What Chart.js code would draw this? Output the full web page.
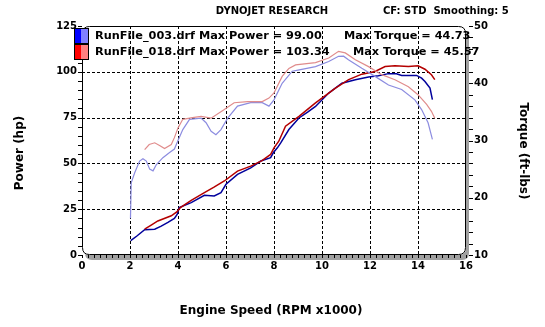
<!DOCTYPE html>
<html><head><meta charset="utf-8">
<script src="https://cdn.jsdelivr.net/npm/chart.js@4.4.1/dist/chart.umd.min.js"></script>
<style>html,body{margin:0;padding:0;background:#fff;overflow:hidden}#wrap{width:545px;height:327px}</style>
</head><body><div id="wrap"><canvas id="c" width="545" height="327"></canvas></div>
<script>
// ---- data (RPM x1000) ----
const rpm003Power = [2.03,2.3,2.61,3.03,3.3,3.58,3.85,3.97,4.05,4.55,5.1,5.51,5.79,6.0,6.48,7.03,7.45,7.86,7.97,8.14,8.28,8.62,9.04,9.4,9.73,10.28,10.83,11.39,11.94,12.35,12.77,13.1,13.32,13.94,14.15,14.29,14.5,14.6];
const power003    = [7.8,10.5,13.8,14.1,15.8,17.8,20.0,22.3,25.9,28.6,32.6,32.2,34.0,38.6,44.0,47.6,51.3,53.1,55.8,58.5,61.2,68.5,74.8,78.0,81.1,88.4,93.8,95.7,97.1,97.8,99.0,98.9,98.0,98.0,96.5,94.7,91.1,84.8];
const rpm018Power = [2.61,2.9,3.16,3.72,3.95,4.1,4.55,5.1,5.5,5.93,6.48,7.03,7.5,7.86,8.0,8.2,8.48,9.04,9.73,10.56,11.11,11.66,12.21,12.63,13.04,13.6,14.0,14.29,14.56,14.7];
const power018    = [14.1,16.5,18.6,21.4,23.5,25.9,29.8,34.0,37.0,40.4,45.8,48.5,51.5,54.9,58.5,62.1,70.3,75.7,83.0,91.1,95.7,98.7,100.2,102.9,103.34,102.9,103.3,101.4,98.4,95.7];
const rpm003Torque = [2.02,2.05,2.2,2.4,2.54,2.68,2.82,2.96,3.1,3.37,3.65,3.85,4.0,4.2,4.48,4.96,5.17,5.38,5.58,5.79,6.07,6.48,7.03,7.51,7.79,8.0,8.34,8.76,9.0,9.73,10.28,10.69,10.9,11.1,11.66,12.21,12.77,13.32,13.87,14.15,14.42,14.6];
const torque003    = [16.4,22.6,24.4,26.4,26.8,26.4,25.0,24.7,25.8,27.0,27.9,28.5,30.0,31.9,33.7,33.9,33.1,31.6,31.0,31.9,33.9,36.0,36.6,36.6,36.0,37.1,40.0,42.1,42.3,42.9,43.8,44.7,44.73,44.1,42.6,41.2,39.7,38.9,37.1,35.4,33.1,30.2];
const rpm018Torque = [2.61,2.8,3.03,3.25,3.44,3.72,3.85,4.0,4.2,4.6,4.96,5.38,5.93,6.34,6.9,7.51,7.79,8.0,8.34,8.62,8.9,9.73,10.28,10.69,10.97,11.39,11.94,12.49,13.04,13.6,14.0,14.36,14.56,14.7];
const torque018    = [28.4,29.3,29.6,29.1,28.6,29.3,30.5,32.2,33.7,34.0,34.2,33.9,35.4,36.6,36.8,36.8,37.4,38.3,41.2,42.6,43.2,43.6,44.4,45.57,45.3,44.1,42.9,41.5,40.6,39.4,38.0,36.3,35.1,33.9];
const xTicks = [0,2,4,6,8,10,12,14,16];
const powerTicks = [0,25,50,75,100,125];
const torqueTicks = [10,20,30,40,50];
const legendLines = [
  {name:'RunFile_003.drf Max Power = 99.00', torque:'Max Torque = 44.73'},
  {name:'RunFile_018.drf Max Power = 103.34', torque:'Max Torque = 45.57'}
];

const FONT = '"DejaVu Sans", sans-serif';
const pts = (xs, ys) => xs.map((x,i)=>({x, y:ys[i]}));

function rrect(ctx,x,y,w,h,r){
  ctx.beginPath();
  ctx.moveTo(x+r,y); ctx.lineTo(x+w-r,y); ctx.quadraticCurveTo(x+w,y,x+w,y+r);
  ctx.lineTo(x+w,y+h-r); ctx.quadraticCurveTo(x+w,y+h,x+w-r,y+h);
  ctx.lineTo(x+r,y+h); ctx.quadraticCurveTo(x,y+h,x,y+h-r);
  ctx.lineTo(x,y+r); ctx.quadraticCurveTo(x,y,x+r,y); ctx.closePath();
}

const dyno = {
  id:'dyno',
  beforeDraw(chart){
    const {ctx, chartArea:a} = chart;
    ctx.save();
    ctx.fillStyle='#fff'; ctx.fillRect(0,0,chart.width,chart.height);
    ctx.fillStyle='#a0a0a0';
    rrect(ctx,a.left+3,a.top+5,a.right-a.left,a.bottom-a.top,7); ctx.fill();
    ctx.fillStyle='#fff';
    rrect(ctx,a.left,a.top,a.right-a.left,a.bottom-a.top,7); ctx.fill();
    ctx.restore();
  },
  beforeDatasetsDraw(chart){
    const {ctx, chartArea:a, scales:{x, yP, yT}} = chart;
    ctx.save();
    ctx.strokeStyle='#000'; ctx.lineWidth=1;
    ctx.setLineDash([3,2]);
    ctx.beginPath();
    xTicks.forEach(v=>{ if(v>0&&v<16){ const px=Math.round(x.getPixelForValue(v))+0.5; ctx.moveTo(px,a.top); ctx.lineTo(px,a.bottom);} });
    powerTicks.forEach(v=>{ if(v>0&&v<125){ const py=Math.round(yP.getPixelForValue(v))+0.5; ctx.moveTo(a.left,py); ctx.lineTo(a.right,py);} });
    ctx.stroke();
    ctx.setLineDash([]);
    // minor ticks
    ctx.beginPath();
    for(let v=0; v<=125; v+=5){ const py=Math.round(yP.getPixelForValue(v))+0.5; ctx.moveTo(a.left-4,py); ctx.lineTo(a.left,py); }
    for(let v=10; v<=50; v+=2){ const py=Math.round(yT.getPixelForValue(v))+0.5; ctx.moveTo(a.right+3,py); ctx.lineTo(a.right+7,py); }
    for(let v=0; v<=16.001; v+=0.25){ const px=Math.round(x.getPixelForValue(v))+0.5; ctx.moveTo(px,a.bottom); ctx.lineTo(px,a.bottom+3); }
    ctx.stroke();
    // frame
    rrect(ctx,a.left+0.5,a.top+0.5,a.right-a.left-1,a.bottom-a.top-1,7);
    ctx.stroke();
    ctx.restore();
  },
  afterDraw(chart){
    const {ctx} = chart;
    ctx.save();
    ctx.fillStyle='#000';
    ctx.textBaseline='middle';
    ctx.font='bold 10px '+FONT;
    ctx.textAlign='center';
    ctx.fillText('DYNOJET RESEARCH',272,11);
    ctx.textAlign='left';
    ctx.fillText('CF: STD  Smoothing: 5',383,11);
    // legend
    const sw=[['#0000ff','#8080ff'],['#ff0000','#ff8080']];
    legendLines.forEach((l,i)=>{
      const y0=28+i*16;
      ctx.fillStyle=sw[i][0]; ctx.fillRect(74,y0,7,15);
      ctx.fillStyle=sw[i][1]; ctx.fillRect(81,y0,8,15);
      ctx.strokeStyle='#000'; ctx.lineWidth=1; ctx.strokeRect(74.5,y0+0.5,14,15);
      ctx.fillStyle='#000';
      ctx.font='bold 11.3px '+FONT;
      ctx.fillText(l.name,95,y0+8);
      ctx.fillText(l.torque,i===0?344:353,y0+8);
    });
    ctx.font='bold 12px '+FONT;
    ctx.textAlign='center';
    ctx.fillText('Engine Speed (RPM x1000)',271,311);
    ctx.save(); ctx.translate(20,153); ctx.rotate(-Math.PI/2); ctx.fillText('Power (hp)',0,0); ctx.restore();
    ctx.save(); ctx.translate(523,151); ctx.rotate(Math.PI/2); ctx.fillText('Torque (ft-lbs)',0,0); ctx.restore();
    ctx.restore();
  }
};

const tickFont = {family:FONT, size:10, weight:'bold'};
new Chart(document.getElementById('c'), {
  type:'line',
  data:{datasets:[
    {label:'Torque 018', data:pts(rpm018Torque,torque018), yAxisID:'yT', borderColor:'#e08c8c', borderWidth:1.2},
    {label:'Torque 003', data:pts(rpm003Torque,torque003), yAxisID:'yT', borderColor:'#8c8ce0', borderWidth:1.2},
    {label:'Power 018', data:pts(rpm018Power,power018), yAxisID:'yP', borderColor:'#b40000', borderWidth:1.5},
    {label:'Power 003', data:pts(rpm003Power,power003), yAxisID:'yP', borderColor:'#00009c', borderWidth:1.5}
  ]},
  options:{
    responsive:false, animation:false, devicePixelRatio:1,
    layout:{padding:{top:26,left:0,right:0,bottom:0}},
    elements:{point:{radius:0}, line:{tension:0}},
    plugins:{legend:{display:false}, tooltip:{enabled:false}},
    scales:{
      x:{type:'linear', position:'bottom', min:0, max:16,
        afterBuildTicks(s){ s.ticks = xTicks.map(v=>({value:v})); },
        ticks:{color:'#000', font:tickFont, padding:5, maxRotation:0, autoSkip:false},
        grid:{display:false, drawTicks:false}, border:{display:false},
        afterFit(s){ s.height=72; }},
      yP:{type:'linear', position:'left', min:0, max:125,
        afterBuildTicks(s){ s.ticks = powerTicks.map(v=>({value:v})); },
        ticks:{color:'#000', font:tickFont, padding:5},
        grid:{display:false, drawTicks:false}, border:{display:false},
        afterFit(s){ s.width=82; }},
      yT:{type:'linear', position:'right', min:10, max:50,
        afterBuildTicks(s){ s.ticks = torqueTicks.map(v=>({value:v})); },
        ticks:{color:'#000', font:tickFont, padding:8},
        grid:{display:false, drawTicks:false}, border:{display:false},
        afterFit(s){ s.width=79; }}
    }
  },
  plugins:[dyno]
});
</script></body></html>
